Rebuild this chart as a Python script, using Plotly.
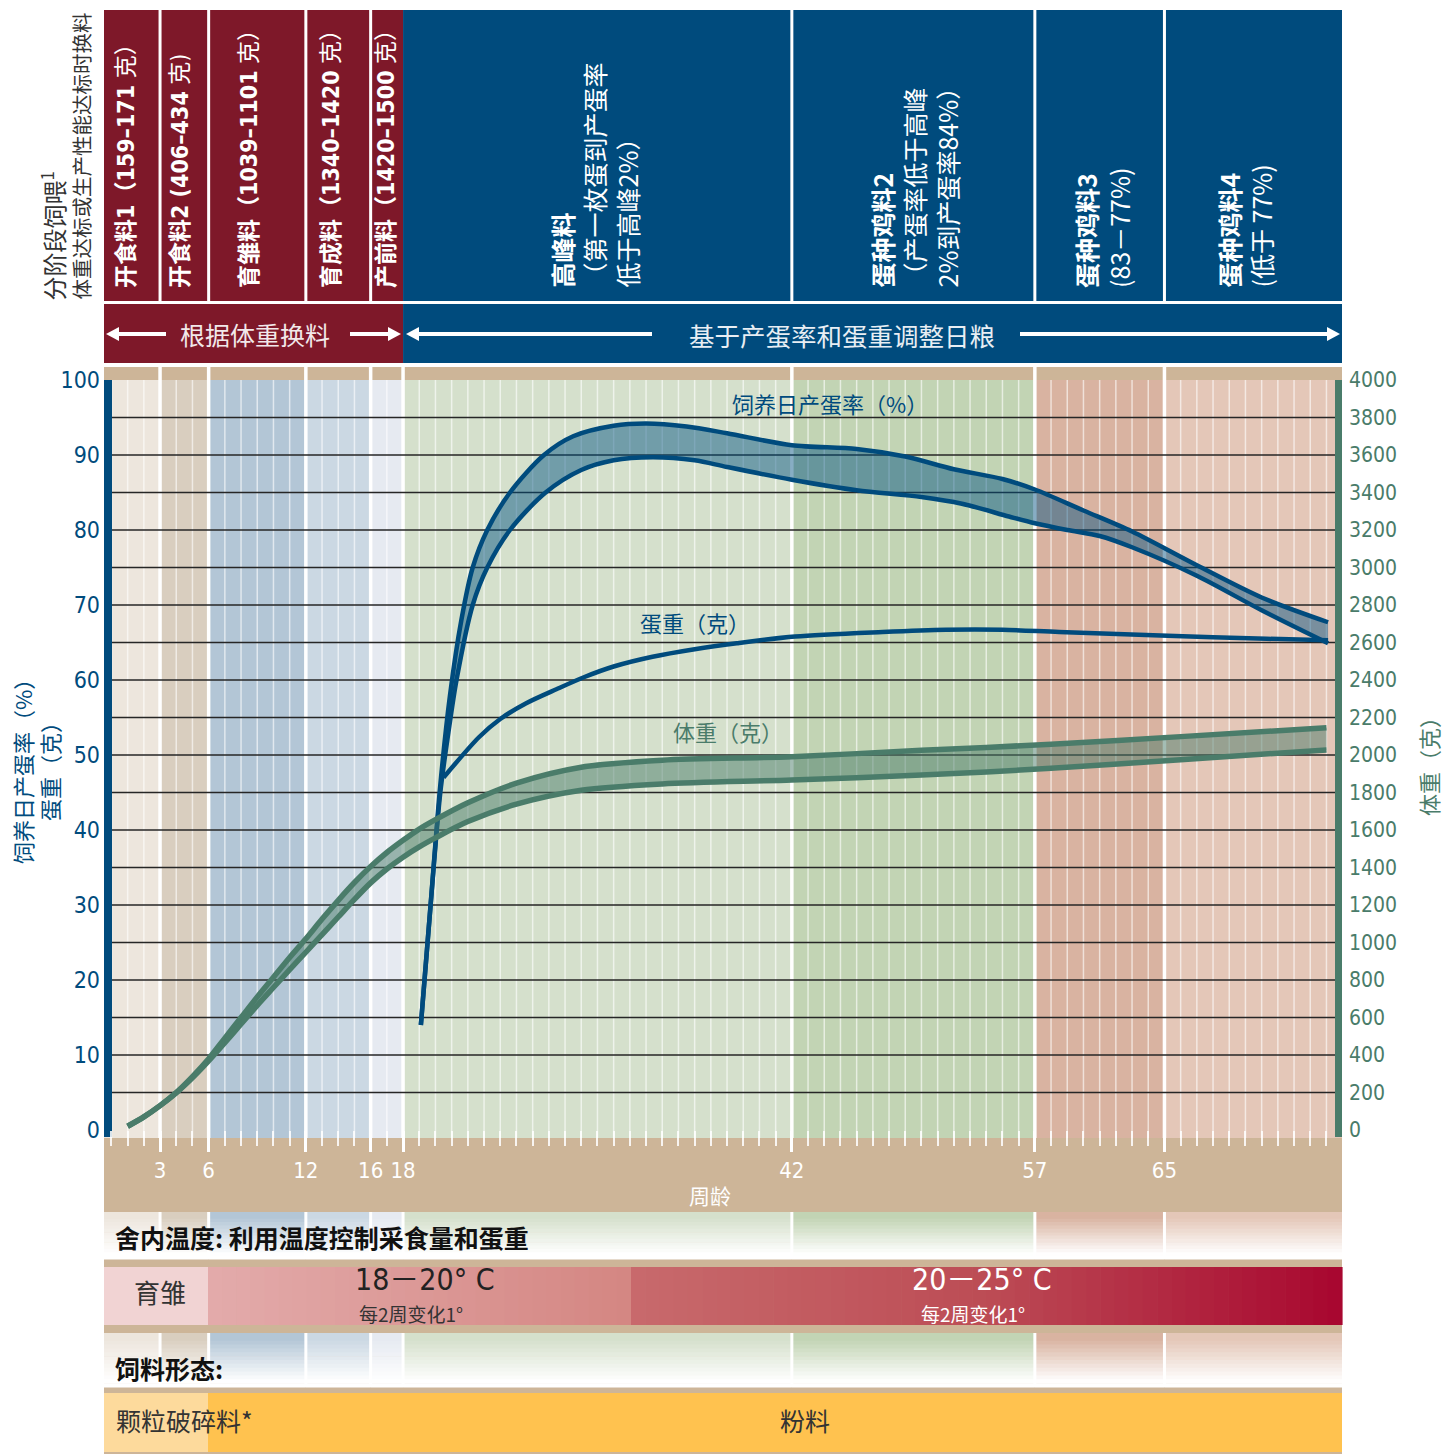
import plotly.graph_objects as go

W, H = 1455, 1454

# ---------------- data ----------------
phase_weeks = [3, 6, 12, 16, 18, 42, 57, 65]
tick_weeks = [3, 6, 12, 16, 18, 42, 57, 65]
left_ticks = list(range(0, 101, 10))
right_ticks = list(range(0, 4001, 200))
grid_values = list(range(5, 100, 5))

# hen-day egg production (%), upper and lower limits
ep_hi_wk = [19.1, 19.7, 20.3, 20.9, 21.6, 22.3, 23.2, 24.6, 26.7, 28.5, 31.0, 33.0, 35.5, 38.0,
            42.0, 46.0, 49.0, 52.0, 55.0, 57.0, 60.0, 63.0, 67.0, 71.0, 75.1]
ep_hi = [14.0, 30.0, 46.0, 58.0, 68.0, 75.0, 80.0, 85.0, 90.0, 92.5, 93.9, 94.2, 93.8, 92.9,
         91.3, 90.8, 89.8, 88.1, 86.8, 85.4, 82.6, 79.8, 75.3, 71.0, 67.7]
ep_lo_wk = [19.1, 19.7, 20.3, 20.8, 21.3, 22.3, 23.2, 24.6, 26.8, 29.0, 31.0, 33.4, 36.0, 38.0,
            42.0, 46.0, 50.0, 52.5, 55.4, 57.0, 59.0, 61.0, 63.0, 67.0, 71.0, 75.1]
ep_lo = [14.0, 30.0, 45.0, 53.0, 60.0, 70.0, 75.0, 80.0, 85.0, 88.0, 89.3, 89.7, 89.3, 88.4,
         86.7, 85.3, 84.4, 83.5, 81.8, 80.9, 80.0, 79.2, 77.7, 73.9, 69.3, 64.9]

# egg weight (g)
ew_wk = [20.5, 22.7, 24.0, 25.6, 27.5, 29.2, 31.0, 33.4, 36.0, 38.6, 42.2, 47.6, 51.5,
         55.0, 58.5, 65.2, 71.3, 75.1]
ew = [47.0, 52.4, 54.8, 56.9, 58.8, 60.4, 61.8, 63.1, 64.1, 64.9, 65.8, 66.4, 66.7,
      66.7, 66.4, 65.9, 65.5, 65.3]

# body weight (g), upper and lower limits
bw_wk = [1, 2, 3, 4, 5, 6, 7, 8, 9, 10, 11, 12, 13, 14, 15, 16, 17, 18, 19, 20, 22, 25, 29, 34,
         42, 50, 58, 66, 75]
bw_hi = [20, 70, 130, 200, 285, 380, 490, 600, 710, 815, 920, 1020, 1125, 1225, 1320, 1405,
         1480, 1545, 1605, 1655, 1745, 1850, 1935, 1972, 1991, 2025, 2057, 2098, 2145]
bw_lo = [20, 70, 130, 198, 278, 368, 465, 565, 665, 760, 855, 948, 1042, 1136, 1230, 1318,
         1392, 1455, 1510, 1558, 1645, 1738, 1812, 1846, 1867, 1893, 1929, 1975, 2027]

# header labels
red_labels = ["<b>开食料1（159–171</b> 克）", "<b>开食料2 (406–434</b> 克)", "<b>育雏料（1039–1101</b> 克）",
              "<b>育成料（1340–1420</b> 克）", "<b>产前料（1420–1500</b> 克）"]
blue_labels = ["<b>高峰料</b><br>（第一枚蛋到产蛋率<br>低于高峰2%）",
               "<b>蛋种鸡料2</b><br>（产蛋率低于高峰<br>2%到产蛋率84%）",
               "<b>蛋种鸡料3</b><br>(83－77%)",
               "<b>蛋种鸡料4</b><br>(低于 77%)"]

# ---------------- styling ----------------
BLUE = "#004B7D"
RED = "#7E1829"
GREEN = "#4A7C6A"
TAN = "#CDB598"
CJK = "Noto Sans CJK SC"
NUM = "Liberation Sans Narrow, DejaVu Sans Condensed, Roboto Condensed, Arial Narrow, Noto Sans CJK SC, sans-serif"
X_RANGE = [-0.46, 75.96]
col_edges = [X_RANGE[0]] + phase_weeks + [X_RANGE[1]]
col_colors = ["#EDE6DD", "#D9CEBF", "#B3C6D6", "#CBD8E3", "#E6EAF1",
              "#D5E0CC", "#C2D4B4", "#D9B3A1", "#E4C7B8"]


def fx(px):
    return px / W


def fy(py):
    return 1 - py / H


def hex2rgb(h):
    h = h.lstrip('#')
    return tuple(int(h[i:i + 2], 16) for i in (0, 2, 4))


def mix(c1, c2, t):
    a, b = hex2rgb(c1), hex2rgb(c2)
    return "rgb(%d,%d,%d)" % tuple(round(a[i] + (b[i] - a[i]) * t) for i in range(3))


shapes = []


def rect_px(x0, x1, y0, y1, color):
    shapes.append(dict(type='rect', xref='paper', yref='paper', x0=fx(x0), x1=fx(x1),
                       y0=fy(y1), y1=fy(y0), fillcolor=color, line=dict(width=0), layer='below'))


def rect_wk(w0, w1, y0, y1, color):
    shapes.append(dict(type='rect', xref='x', yref='paper', x0=w0, x1=w1,
                       y0=fy(y1), y1=fy(y0), fillcolor=color, line=dict(width=0), layer='below'))


def vline_wk(w, y0, y1, color, width):
    shapes.append(dict(type='line', xref='x', yref='paper', x0=w, x1=w,
                       y0=fy(y1), y1=fy(y0), line=dict(color=color, width=width), layer='below'))


def vgrad(w0, w1, y0, y1, color, n=14):
    h = (y1 - y0) / n
    for i in range(n):
        t = (i + 0.5) / n
        f = min(1.0, max(0.0, (t - 0.12) / 0.78))
        rect_wk(w0, w1, y0 + i * h, y0 + (i + 1) * h + 0.6, mix(color, "#FFFFFF", f))


def hgrad(x0, x1, y0, y1, stops, n=40):
    w = (x1 - x0) / n
    for i in range(n):
        t = (i + 0.5) / n
        col = stops[-1][1]
        for j in range(len(stops) - 1):
            p0, c0 = stops[j]
            p1, c1 = stops[j + 1]
            if p0 <= t <= p1:
                col = mix(c0, c1, (t - p0) / (p1 - p0))
                break
        rect_px(x0 + i * w, x0 + (i + 1) * w + 0.6, y0, y1, col)


def arrow_px(x_tail, x_tip, py, color="white"):
    d = 1 if x_tip > x_tail else -1
    base = x_tip - d * 13
    shapes.append(dict(type='line', xref='paper', yref='paper', x0=fx(x_tail), x1=fx(base + d * 1),
                       y0=fy(py), y1=fy(py), line=dict(color=color, width=4), layer='below'))
    path = "M %f %f L %f %f L %f %f Z" % (fx(x_tip), fy(py), fx(base), fy(py - 7), fx(base), fy(py + 7))
    shapes.append(dict(type='path', xref='paper', yref='paper', path=path, fillcolor=color,
                       line=dict(width=0), layer='below'))


# bottom tan block and top tan strip
rect_px(104, 1342, 1138, 1454, TAN)
rect_px(104, 1342, 367, 380, TAN)

# header columns
for i in range(len(col_edges) - 1):
    rect_wk(col_edges[i], col_edges[i + 1], 10, 301, RED if i < 5 else BLUE)
rect_wk(col_edges[0], 18, 304, 363, RED)
rect_wk(18, col_edges[-1], 304, 363, BLUE)
for w in [3, 6, 12, 16, 42, 57, 65]:
    vline_wk(w, 10, 301, "white", 3)

# arrows of the feeding-strategy band
arrow_px(166, 106, 334)
arrow_px(350, 401, 334)
arrow_px(652, 406, 334)
arrow_px(1020, 1340, 334)

# plot background columns
for i in range(len(col_edges) - 1):
    rect_wk(col_edges[i], col_edges[i + 1], 380, 1138, col_colors[i])
for w in range(0, 76):
    if w not in phase_weeks:
        vline_wk(w, 380, 1138, "rgba(255,255,255,0.6)", 1.5)

# gradient rows under the chart
for i in range(len(col_edges) - 1):
    vgrad(col_edges[i], col_edges[i + 1], 1212, 1259, col_colors[i])
    vgrad(col_edges[i], col_edges[i + 1], 1333, 1387, col_colors[i])

# column boundary lines
for w in phase_weeks:
    vline_wk(w, 367, 1138, "white", 3.5)
    vline_wk(w, 1212, 1259, "white", 3)
    vline_wk(w, 1333, 1387, "white", 3)

# temperature bar
rect_px(104, 208, 1267, 1325, "#F1D3D3")
hgrad(208, 631, 1267, 1325, [(0, "#E3ABAB"), (1, "#D48682")], n=30)
hgrad(631, 1342, 1267, 1325, [(0, "#C86A6C"), (0.5, "#BC4C55"), (1, "#A8062F")], n=50)

# feed form bar
rect_px(104, 208, 1393, 1452, "#FDDA9C")
rect_px(208, 1342, 1393, 1452, "#FFC24F")

# horizontal grid lines
for v in grid_values:
    shapes.append(dict(type='line', xref='paper', yref='y', x0=fx(112), x1=fx(1335), y0=v, y1=v,
                       line=dict(color="#262626", width=1.6), layer='below'))

# axis bars
rect_px(104, 112, 380, 1137, BLUE)
rect_px(1335, 1342, 380, 1137, GREEN)

# ---------------- traces ----------------
fig = go.Figure()
SM = 0.85

# egg production band (fill between limits)
fig.add_trace(go.Scatter(x=ep_lo_wk, y=ep_lo, mode='lines', hoverinfo='skip',
                         line=dict(width=0, shape='spline', smoothing=SM, color=BLUE)))
fig.add_trace(go.Scatter(x=ep_hi_wk, y=ep_hi, mode='lines', fill='tonexty', hoverinfo='skip',
                         fillcolor="rgba(0,80,130,0.47)",
                         line=dict(width=0, shape='spline', smoothing=SM, color=BLUE)))
fig.add_trace(go.Scatter(x=ep_hi_wk, y=ep_hi, mode='lines',
                         line=dict(color=BLUE, width=4.5, shape='spline', smoothing=SM)))
fig.add_trace(go.Scatter(x=ep_lo_wk, y=ep_lo, mode='lines',
                         line=dict(color=BLUE, width=4.5, shape='spline', smoothing=SM)))
fig.add_trace(go.Scatter(x=ew_wk, y=ew, mode='lines',
                         line=dict(color=BLUE, width=4.5, shape='spline', smoothing=SM)))

# body weight band
fig.add_trace(go.Scatter(x=bw_wk, y=bw_lo, mode='lines', yaxis='y2', hoverinfo='skip',
                         line=dict(width=0, shape='spline', smoothing=SM, color=GREEN)))
fig.add_trace(go.Scatter(x=bw_wk, y=bw_hi, mode='lines', yaxis='y2', fill='tonexty',
                         fillcolor="rgba(74,124,106,0.5)", hoverinfo='skip',
                         line=dict(width=0, shape='spline', smoothing=SM, color=GREEN)))
fig.add_trace(go.Scatter(x=bw_wk, y=bw_hi, mode='lines', yaxis='y2',
                         line=dict(color=GREEN, width=5.5, shape='spline', smoothing=SM)))
fig.add_trace(go.Scatter(x=bw_wk, y=bw_lo, mode='lines', yaxis='y2',
                         line=dict(color=GREEN, width=5.5, shape='spline', smoothing=SM)))

# ---------------- annotations ----------------
anns = []


def ann(px, py, text, size, color, xanchor='center', yanchor='middle', angle=0,
        family=CJK, align='center'):
    anns.append(dict(x=fx(px), y=fy(py), xref='paper', yref='paper', text=text, showarrow=False,
                     xanchor=xanchor, yanchor=yanchor, textangle=angle, align=align,
                     font=dict(family=family, size=size, color=color)))


# left side vertical titles of the header
ann(52, 303, "分阶段饲喂<sup>1</sup>", 24, "#333333", yanchor='bottom', angle=-90)
ann(80, 302, "体重达标或生产性能达标时换料", 20.5, "#333333", yanchor='bottom', angle=-90)

red_centers = [126, 180, 249, 331, 386]
for cx, txt in zip(red_centers, red_labels):
    ann(cx, 290, txt, 23, "white", yanchor='bottom', angle=-90, family=NUM, align='left')
blue_centers = [594, 914, 1102, 1245]
for cx, txt in zip(blue_centers, blue_labels):
    ann(cx, 290, txt, 25, "white", yanchor='bottom', angle=-90, align='left')

# arrow band texts
ann(255, 334, "根据体重换料", 25, "#F2E8EA")
ann(842, 334, "基于产蛋率和蛋重调整日粮", 25.5, "#E8EEF4")

# axis titles
ann(22, 766, "饲养日产蛋率（%）", 22, BLUE, angle=-90)
ann(49, 766, "蛋重（克）", 22, BLUE, angle=-90)
ann(1428, 761, "体重（克）", 22, GREEN, angle=-90)

# series labels
ann(830, 403, "饲养日产蛋率（%）", 22, BLUE)
ann(695, 622, "蛋重（克）", 22, BLUE)
ann(728, 731, "体重（克）", 22, GREEN)

# x axis title
ann(710, 1195, "周龄", 21, "white")

# bottom rows
ann(113, 1237, "<b>舍内温度: 利用温度控制采食量和蛋重</b>", 25, "#111111", xanchor='left')
ann(160, 1291, "育雏", 26, "#333333")
ann(425, 1279, "18－20° C", 30, "#222222", family=NUM)
ann(411, 1313, "每2周变化1°", 19, "#333333")
ann(982, 1279, "20－25° C", 30, "white", family=NUM)
ann(973, 1313, "每2周变化1°", 19, "white")
ann(113, 1368, "<b>饲料形态:</b>", 25, "#111111", xanchor='left')
ann(114, 1420, "颗粒破碎料*", 25, "#333333", xanchor='left')
ann(805, 1420, "粉料", 25, "#333333")

axis_dom_y = [fy(1130), fy(380)]
fig.update_layout(
    width=W, height=H, margin=dict(l=0, r=0, t=0, b=0, autoexpand=False),
    paper_bgcolor="white", plot_bgcolor="rgba(0,0,0,0)",
    showlegend=False, shapes=shapes, annotations=anns,
    font=dict(family=CJK),
    xaxis=dict(domain=[fx(104), fx(1342)], range=X_RANGE, tickvals=tick_weeks,
               ticktext=[str(t) for t in tick_weeks], ticks='outside', ticklen=21,
               tickwidth=2.5, tickcolor="white", automargin=False,
               tickfont=dict(family=NUM, size=22, color="white"),
               showgrid=False, zeroline=False, showline=False, fixedrange=True,
               minor=dict(dtick=1, tick0=0, ticks='outside', ticklen=15, tickwidth=1.5,
                          tickcolor="rgba(255,255,255,0.85)", showgrid=False)),
    yaxis=dict(domain=axis_dom_y, range=[0, 100], tickvals=left_ticks, showgrid=False,
               zeroline=False, showline=False, ticks='', fixedrange=True, automargin=False,
               ticklabelstandoff=3, tickfont=dict(family=NUM, size=23, color=BLUE)),
    yaxis2=dict(domain=axis_dom_y, range=[0, 4000], tickvals=right_ticks, overlaying='y',
                side='right', showgrid=False, zeroline=False, showline=False, ticks='',
                fixedrange=True, automargin=False, ticklabelstandoff=6,
                tickfont=dict(family=NUM, size=21, color=GREEN)),
)

fig.write_html("out.html", config={"displayModeBar": False},
               post_script="document.body.style.margin='0px';")
